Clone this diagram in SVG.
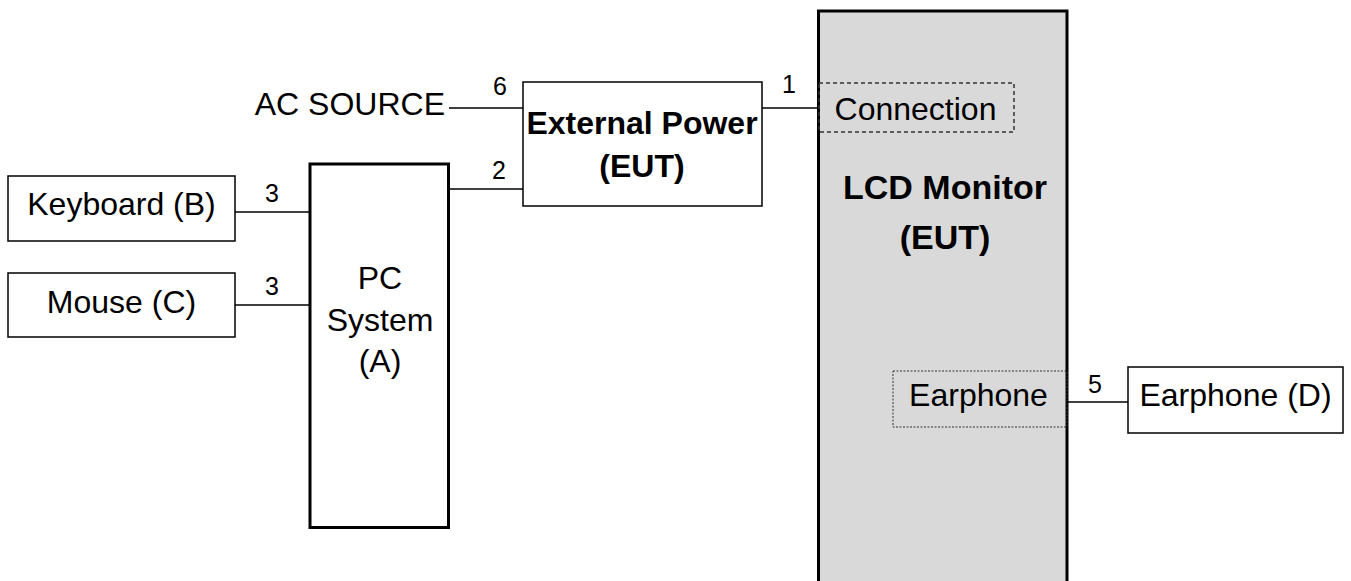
<svg xmlns="http://www.w3.org/2000/svg" width="1351" height="581" viewBox="0 0 1351 581">
<style>
.box{fill:#fff;stroke:#000;stroke-width:1.5}
.thick{fill:#fff;stroke:#000;stroke-width:3}
.lcd{fill:#d9d9d9;stroke:#000;stroke-width:3}
.dash{fill:none;stroke:#333;stroke-width:1.5;stroke-dasharray:4 3}
.dot{fill:none;stroke:#333;stroke-width:1;stroke-dasharray:2 1.5}
.wire{stroke:#000;stroke-width:1.5;fill:none}
text{font-family:"Liberation Sans",Arial,sans-serif;fill:#000}
.t{font-size:32px;text-anchor:middle}
.b{font-size:32px;font-weight:bold;text-anchor:middle}
.n{font-size:25px;text-anchor:middle}
</style>
<rect x="0" y="0" width="1351" height="581" fill="#fff"/>
<g id="lcd-monitor">
<rect class="lcd" x="818.5" y="11" width="248.5" height="580"/>
<text class="b" x="945" y="199" style="font-size:34px">LCD Monitor</text>
<text class="b" x="945" y="249" style="font-size:34px">(EUT)</text>
</g>
<g id="connection-port">
<rect class="dash" x="819" y="83" width="195" height="49"/>
<text class="t" x="915.5" y="120">Connection</text>
</g>
<g id="earphone-port">
<rect class="dot" x="893" y="371" width="174" height="56"/>
<text class="t" x="978.5" y="406">Earphone</text>
</g>
<g id="external-power">
<rect class="box" x="523" y="82" width="239" height="124"/>
<text class="b" x="642" y="134">External Power</text>
<text class="b" x="642" y="177">(EUT)</text>
</g>
<g id="ac-source">
<text class="t" x="445" y="115" style="text-anchor:end">AC SOURCE</text>
</g>
<g id="pc-system">
<rect class="thick" x="310" y="164" width="138.5" height="363.5"/>
<text class="t" x="380" y="289">PC</text>
<text class="t" x="380" y="331">System</text>
<text class="t" x="380" y="372">(A)</text>
</g>
<g id="keyboard">
<rect class="box" x="8" y="176" width="227" height="65"/>
<text class="t" x="121.5" y="215">Keyboard (B)</text>
</g>
<g id="mouse">
<rect class="box" x="8" y="273" width="227" height="64"/>
<text class="t" x="121.5" y="313">Mouse (C)</text>
</g>
<g id="earphone-d">
<rect class="box" x="1128" y="367" width="215" height="66"/>
<text class="t" x="1235.5" y="406">Earphone (D)</text>
</g>
<g id="connectors">
<line class="wire" x1="449" y1="108" x2="523" y2="108"/>
<line class="wire" x1="449" y1="189" x2="523" y2="189"/>
<line class="wire" x1="762" y1="108" x2="818" y2="108"/>
<line class="wire" x1="235" y1="212" x2="310" y2="212"/>
<line class="wire" x1="235" y1="305" x2="310" y2="305"/>
<line class="wire" x1="1067" y1="402" x2="1128" y2="402"/>
<text class="n" x="500" y="95">6</text>
<text class="n" x="499" y="179">2</text>
<text class="n" x="789" y="93">1</text>
<text class="n" x="272" y="202">3</text>
<text class="n" x="272" y="295">3</text>
<text class="n" x="1095" y="393">5</text>
</g>
</svg>
